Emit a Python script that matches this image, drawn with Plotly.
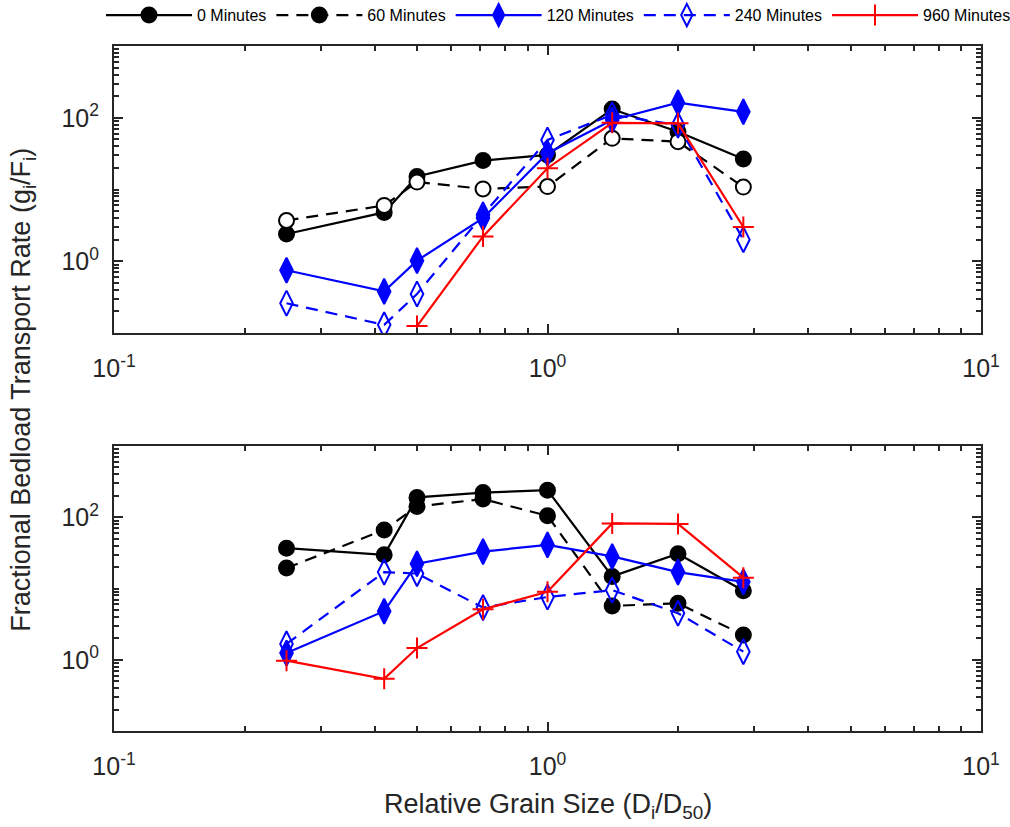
import plotly.graph_objects as go

# ---------------- data ----------------
grain_size = [0.25, 0.42, 0.5, 0.71, 1.0, 1.41, 2.0, 2.83]

# top panel
top_0 = [2.4, 4.8, 15.2, 25.3, 30.3, 132, 64, 26.7]
top_60 = [3.7, 6.0, 12.7, 10.2, 11.0, 51.7, 46.4, 10.8]
top_120 = [0.75, 0.38, 1.02, 4.0, 32, 93, 162, 121]
top_240 = [0.26, 0.13, 0.35, 4.45, 49, 110, 79, 2.0]
top_960_x = [0.5, 0.71, 1.0, 1.41, 2.0, 2.83]
top_960 = [0.125, 2.22, 19.8, 85, 83.5, 3.0]

# bottom panel
bot_0 = [36.8, 29.8, 190, 222, 240, 14.8, 30.8, 9.3]
bot_60 = [19.4, 66.5, 142, 180, 105, 5.7, 6.2, 2.23]
bot_120 = [1.24, 4.8, 22.3, 33, 41, 28.2, 17, 12.4]
bot_240 = [1.67, 17, 16.2, 5.4, 7.6, 9.5, 4.5, 1.3]
bot_960 = [0.97, 0.54, 1.46, 5.1, 9.0, 82, 80.7, 14.2]

legend_names = ["0 Minutes", "60 Minutes", "120 Minutes", "240 Minutes", "960 Minutes"]

x_tickvals = [0.1, 1, 10]
x_ticktext = ["10<sup>-1</sup>", "10<sup>0</sup>", "10<sup>1</sup>"]
y_tickvals = [1, 100]
y_ticktext = ["10<sup>0</sup>", "10<sup>2</sup>"]

# ---------------- figure ----------------
FONT = "Arial, Liberation Sans, sans-serif"
AXC = "#262626"
DASH = "12px,8px"

fig = go.Figure()


def add(x, y, row_axis, name, color, dash, symbol, size, fill, showlegend):
    xa, ya = row_axis
    fig.add_trace(go.Scatter(
        x=x, y=y, mode="lines+markers", name=name,
        xaxis=xa, yaxis=ya, legendgroup=name, showlegend=showlegend,
        line=dict(color=color, width=2.2, dash=dash),
        marker=dict(symbol=symbol, size=size, color=fill,
                    line=dict(color=color, width=2)),
    ))


top = ("x", "y")
bot = ("x2", "y2")

add(grain_size, top_0, top, legend_names[0], "black", "solid", "circle", 15, "black", False)
add(grain_size, top_60, top, legend_names[1], "black", DASH, "circle", 15, "white", False)
add(grain_size, top_120, top, legend_names[2], "#0000FF", "solid", "diamond-tall", 18, "#0000FF", False)
add(grain_size, top_240, top, legend_names[3], "#0000FF", DASH, "diamond-tall-open", 18, "#0000FF", False)
add(top_960_x, top_960, top, legend_names[4], "#FF0000", "solid", "cross-thin", 15, "#FF0000", False)

add(grain_size, bot_0, bot, legend_names[0], "black", "solid", "circle", 15, "black", True)
add(grain_size, bot_60, bot, legend_names[1], "black", DASH, "circle", 15, "black", True)
add(grain_size, bot_120, bot, legend_names[2], "#0000FF", "solid", "diamond-tall", 18, "#0000FF", True)
add(grain_size, bot_240, bot, legend_names[3], "#0000FF", DASH, "diamond-tall-open", 18, "#0000FF", True)
add(grain_size, bot_960, bot, legend_names[4], "#FF0000", "solid", "cross-thin", 15, "#FF0000", True)

x_minor = [v * m for m in (0.1, 1) for v in range(2, 10)]
y_minor = [v * m for m in (0.1, 1, 10, 100) for v in range(1, 10)]
y_minor = [v for v in y_minor if v not in (1, 100)]


def xaxis_cfg(anchor):
    return dict(
        type="log", range=[-1, 1], anchor=anchor,
        tickmode="array", tickvals=x_tickvals, ticktext=x_ticktext,
        ticks="inside", ticklen=9, tickwidth=1.5, tickcolor=AXC,
        minor=dict(tickmode="array", tickvals=x_minor, ticks="inside",
                   ticklen=5, tickwidth=1.5, tickcolor=AXC, showgrid=False),
        showline=True, linecolor=AXC, linewidth=2, mirror="ticks",
        showgrid=False, zeroline=False,
        tickfont=dict(family=FONT, size=25, color=AXC),
        ticklabelstandoff=12,
    )


def yaxis_cfg(anchor, domain):
    return dict(
        type="log", range=[-1, 3], anchor=anchor, domain=domain,
        tickmode="array", tickvals=y_tickvals, ticktext=y_ticktext,
        ticks="inside", ticklen=9, tickwidth=1.5, tickcolor=AXC,
        minor=dict(tickmode="array", tickvals=y_minor, ticks="inside",
                   ticklen=5, tickwidth=1.5, tickcolor=AXC, showgrid=False),
        showline=True, linecolor=AXC, linewidth=2, mirror="ticks",
        showgrid=False, zeroline=False,
        tickfont=dict(family=FONT, size=25, color=AXC),
        ticklabelstandoff=8,
    )


fig.update_layout(
    width=1010, height=827,
    margin=dict(l=114, r=29, t=46, b=96, autoexpand=False),
    paper_bgcolor="white", plot_bgcolor="white",
    font=dict(family=FONT, color=AXC),
    xaxis=xaxis_cfg("y"),
    yaxis=yaxis_cfg("x", [0.581, 1.0]),
    xaxis2=xaxis_cfg("y2"),
    yaxis2=yaxis_cfg("x2", [0.0, 0.416]),
    legend=dict(
        orientation="h", x=-0.015, xanchor="left", y=1.045, yanchor="middle",
        font=dict(family=FONT, size=16, color="black"),
        itemwidth=86, tracegroupgap=0, bgcolor="rgba(0,0,0,0)",
    ),
    annotations=[
        dict(text="Fractional Bedload Transport Rate (g<sub>i</sub>/F<sub>i</sub>)",
             xref="paper", yref="paper", x=-0.105, y=0.498, textangle=-90,
             showarrow=False, xanchor="center", yanchor="middle",
             font=dict(family=FONT, size=27, color=AXC)),
        dict(text="Relative Grain Size (D<sub>i</sub>/D<sub>50</sub>)",
             xref="paper", yref="paper", x=0.5, y=-0.11,
             showarrow=False, xanchor="center", yanchor="middle",
             font=dict(family=FONT, size=27, color=AXC)),
    ],
)

fig.write_html("out.html")
